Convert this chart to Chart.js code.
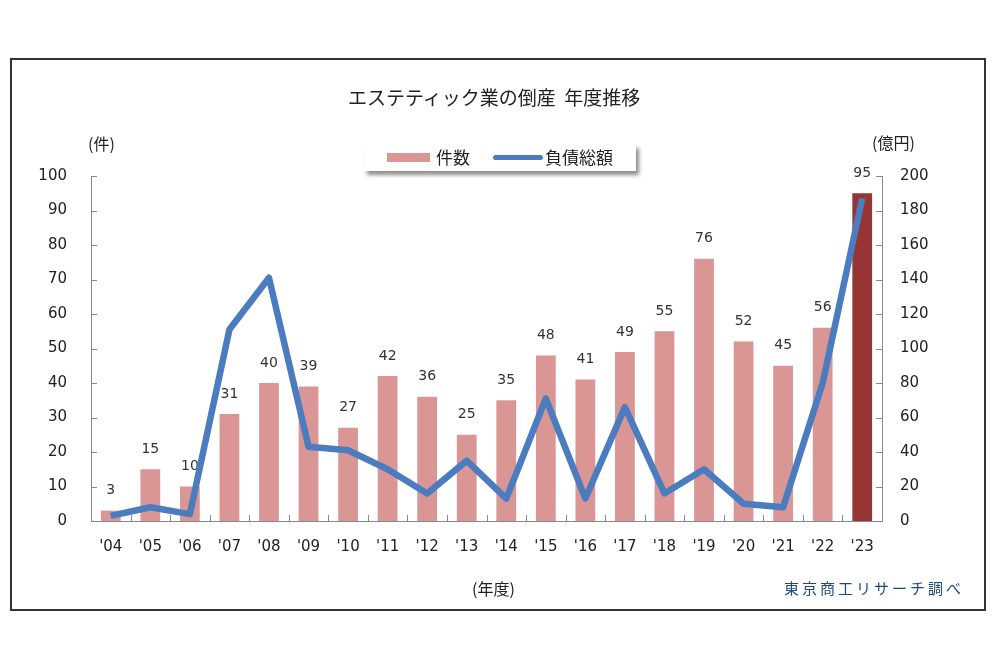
<!DOCTYPE html>
<html>
<head>
<meta charset="utf-8">
<script src="https://cdn.jsdelivr.net/npm/chart.js@4/dist/chart.umd.min.js"></script>
<style>
  body { margin: 0; background: #fff; font-family: "Noto Sans CJK JP", "DejaVu Sans", sans-serif; }
  #wrap { position: relative; width: 1000px; height: 670px; }
  #frame { position: absolute; left: 10px; top: 58px; width: 972px; height: 549px; border: 2px solid #333; }
  canvas { position: absolute; left: 0; top: 0; }
  .txt { position: absolute; color: #222; white-space: nowrap; }
  #legend { position: absolute; left: 364px; top: 144px; width: 272px; height: 27px; background: #fff;
    box-shadow: 3px 4px 4px rgba(0,0,0,0.45); font-size: 17px; color: #222; }
</style>
</head>
<body>
<div id="wrap">
  <div id="frame"></div>
  <canvas id="chart" width="1000" height="670"></canvas>
  <div class="txt" style="left:348px;top:83px;font-size:19px;">エステティック業の倒産&nbsp;&nbsp;年度推移</div>
  <div id="legend">
    <span style="position:absolute;left:23px;top:9px;width:43px;height:9px;background:#d99694;"></span>
    <span style="position:absolute;left:72px;top:0px;">件数</span>
    <span style="position:absolute;left:129px;top:11px;width:50px;height:5px;border-radius:3px;background:#4a7cbf;"></span>
    <span style="position:absolute;left:181px;top:0px;">負債総額</span>
  </div>
  <div class="txt" style="left:88px;top:131px;font-size:16px;">(件)</div>
  <div class="txt" style="left:872px;top:130px;font-size:16px;">(億円)</div>
  <div class="txt" style="left:472px;top:576px;font-size:16px;">(年度)</div>
  <div class="txt" style="left:784px;top:577px;font-size:15px;color:#1f497d;letter-spacing:3px;">東京商工リサーチ調べ</div>
</div>
<script>
const years = ["'04", "'05", "'06", "'07", "'08", "'09", "'10", "'11", "'12", "'13",
  "'14", "'15", "'16", "'17", "'18", "'19", "'20", "'21", "'22", "'23"];
const cases = [3, 15, 10, 31, 40, 39, 27, 42, 36, 25, 35, 48, 41, 49, 55, 76, 52, 45, 56, 95];
const debt = [3, 8, 4, 111, 141, 43, 41, 30, 16, 35, 13, 71, 13, 66, 16, 30, 10, 8, 80, 187];

const barColors = cases.map((v, i) => (i === cases.length - 1 ? "#963634" : "#d99694"));

// value labels above the bars, drawn before the line so the line sits on top
const barLabels = {
  id: "barLabels",
  afterDatasetDraw(chart, args) {
    if (args.meta.type !== "bar") return;
    const ctx = chart.ctx;
    ctx.save();
    ctx.font = "14px 'DejaVu Sans'";
    ctx.fillStyle = "#333";
    ctx.textAlign = "center";
    ctx.textBaseline = "middle";
    args.meta.data.forEach((bar, i) => {
      ctx.fillText(cases[i], bar.x, bar.y - 20);
    });
    ctx.restore();
  },
};

// small inward tick marks on the axes
const axisTicks = {
  id: "axisTicks",
  afterDraw(chart) {
    const ctx = chart.ctx;
    const { left, right, bottom } = chart.chartArea;
    const y = chart.scales.y;
    const y1 = chart.scales.y1;
    ctx.save();
    ctx.strokeStyle = "#888";
    ctx.lineWidth = 1;
    ctx.beginPath();
    y.ticks.forEach((t) => {
      const py = Math.round(y.getPixelForValue(t.value)) + 0.5;
      ctx.moveTo(left, py);
      ctx.lineTo(left + 6, py);
    });
    y1.ticks.forEach((t) => {
      const py = Math.round(y1.getPixelForValue(t.value)) + 0.5;
      ctx.moveTo(right, py);
      ctx.lineTo(right - 6, py);
    });
    const w = (right - left) / years.length;
    for (let i = 1; i < years.length; i++) {
      const px = Math.round(left + w * i) + 0.5;
      ctx.moveTo(px, bottom);
      ctx.lineTo(px, bottom - 6);
    }
    ctx.stroke();
    ctx.restore();
  },
};

const tickFont = { family: "'DejaVu Sans'", size: 15 };

new Chart(document.getElementById("chart"), {
  data: {
    labels: years,
    datasets: [
      {
        type: "line",
        label: "負債総額",
        data: debt,
        yAxisID: "y1",
        borderColor: "#4a7cbf",
        borderWidth: 6.5,
        pointRadius: 0,
        tension: 0,
        borderJoinStyle: "round",
        order: 0,
      },
      {
        type: "bar",
        label: "件数",
        data: cases,
        yAxisID: "y",
        backgroundColor: barColors,
        barPercentage: 0.5,
        categoryPercentage: 1,
        order: 1,
      },
    ],
  },
  options: {
    responsive: false,
    animation: false,
    layout: { padding: { top: 176 } },
    plugins: {
      legend: { display: false },
      tooltip: { enabled: false },
    },
    scales: {
      x: {
        grid: { display: false, drawTicks: false },
        border: { color: "#888" },
        ticks: { font: tickFont, color: "#222", padding: 17, maxRotation: 0 },
        afterFit(scale) { scale.height = 149; },
      },
      y: {
        position: "left",
        min: 0,
        max: 100,
        grid: { display: false, drawTicks: false },
        border: { color: "#888" },
        ticks: { stepSize: 10, font: tickFont, color: "#222", padding: 24 },
        afterFit(scale) { scale.width = 91; },
      },
      y1: {
        position: "right",
        min: 0,
        max: 200,
        grid: { display: false, drawTicks: false },
        border: { color: "#888" },
        ticks: { stepSize: 20, font: tickFont, color: "#222", padding: 18 },
        afterFit(scale) { scale.width = 118; },
      },
    },
  },
  plugins: [barLabels, axisTicks],
});
</script>
</body>
</html>
